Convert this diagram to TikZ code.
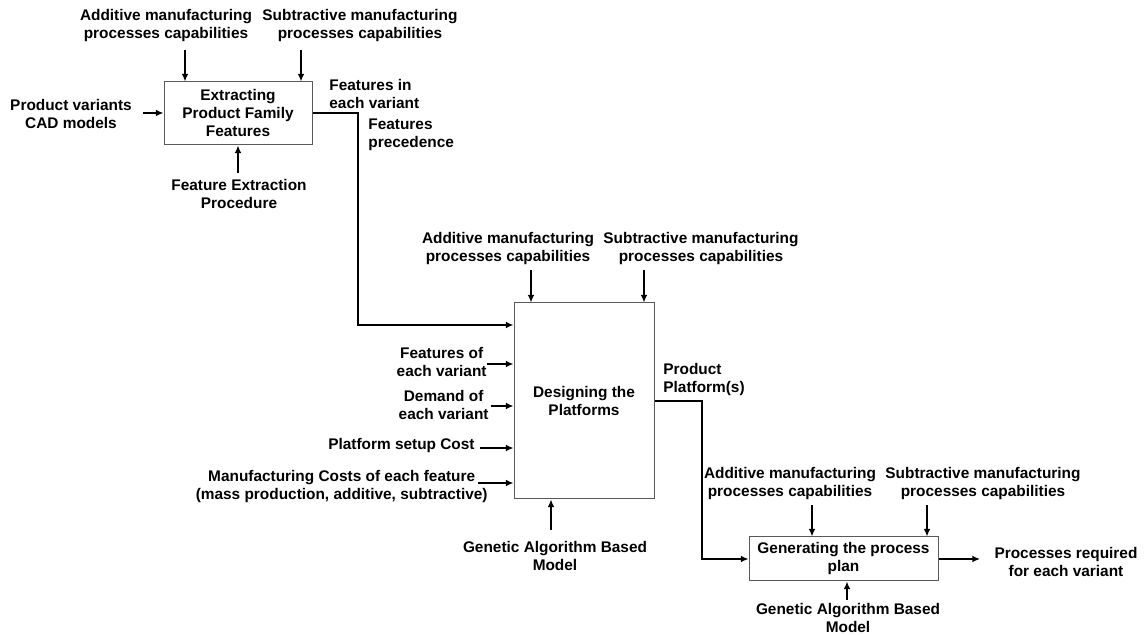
\documentclass[tikz,border=0pt]{standalone}
\usepackage{fontspec}
\setmainfont{Liberation Sans}
\usetikzlibrary{arrows.meta}

\tikzset{
  procbox/.style={draw=black!65, line width=0.5pt, align=center, inner sep=0pt,
    font=\bfseries\fontsize{7.7pt}{9pt}\selectfont},
  lbl/.style={align=center, inner sep=0pt, font=\bfseries\fontsize{7.7pt}{9pt}\selectfont},
  flow/.style={line width=1pt, -{Latex[length=3.8pt,width=3.4pt]}},
}

\begin{document}
\begin{tikzpicture}[x=0.5pt,y=-0.5pt]
\useasboundingbox (0,0) rectangle (1147,635);

% the three steps
\node[procbox, minimum width=74pt, minimum height=31.5pt] (box1) at (238,113.5) {Extracting\\Product Family\\Features};
\node[procbox, minimum width=70pt, minimum height=98pt] (box2) at (584,401) {Designing the\\Platforms};
\node[procbox, minimum width=94.5pt, minimum height=22pt] (box3) at (843.5,559) {Generating the process\\plan};

% step 1 labels
\node[lbl] (am1) at (166,26) {Additive manufacturing\\processes capabilities};
\node[lbl] (sm1) at (360,26) {Subtractive manufacturing\\processes capabilities};
\node[lbl] (pv) at (71,114) {Product variants\\CAD models};
\node[lbl] (fx) at (239,194) {Feature Extraction\\Procedure};
\node[lbl, align=left, anchor=west] (fe) at (329,94) {Features in\\each variant};
\node[lbl, align=left, anchor=west] (fp) at (368,135) {Features\\precedence};

% step 2 labels
\node[lbl] (am2) at (508,249) {Additive manufacturing\\processes capabilities};
\node[lbl] (sm2) at (701,249) {Subtractive manufacturing\\processes capabilities};
\node[lbl, anchor=east] (fv) at (487,362) {Features of\\each variant};
\node[lbl, anchor=east] (dv) at (489,405) {Demand of\\each variant};
\node[lbl, anchor=east] (psc) at (475,446) {Platform setup Cost};
\node[lbl, anchor=east] (mc) at (488,487) {Manufacturing Costs of each feature\\(mass production, additive, subtractive)};
\node[lbl] (ga2) at (555,556) {Genetic Algorithm Based\\Model};
\node[lbl, align=left, anchor=west] (pp) at (663,380) {Product\\Platform(s)};

% step 3 labels
\node[lbl] (am3) at (790,484) {Additive manufacturing\\processes capabilities};
\node[lbl] (sm3) at (983,484) {Subtractive manufacturing\\processes capabilities};
\node[lbl] (pr) at (1066,562) {Processes required\\for each variant};
\node[lbl] (ga3) at (848,618) {Genetic Algorithm Based\\Model};

% capabilities coming in from the top
\foreach \c/\x/\y/\b in {a1/185/50/box1, s1/301/50/box1, a2/531/270/box2, s2/644/270/box2, a3/812/505/box3, s3/927/505/box3} {
  \coordinate (\c) at (\x,\y);
  \draw[flow] (\c) -- (\c |- \b.north);
}

% mechanisms from below
\foreach \c/\x/\y/\b in {m1/238/173/box1, m2/551/530/box2, m3/847/600/box3} {
  \coordinate (\c) at (\x,\y);
  \draw[flow] (\c) -- (\c |- \b.south);
}

% inputs from the left
\foreach \c/\x/\y/\b in {i1/143/113/box1, i2/487/364/box2, i3/491/406/box2, i4/480/448/box2, i5/478/483/box2} {
  \coordinate (\c) at (\x,\y);
  \draw[flow] (\c) -- (\c -| \b.west);
}

% outputs feeding the next step
\coordinate (bend1) at (358,325);
\coordinate (bend2) at (702,559);
\coordinate (out3) at (980,559);
\draw[flow] (box1.east) -| (bend1) -- (bend1 -| box2.west);
\draw[flow] (box2.east) -| (bend2) -- (box3.west);
\draw[flow] (box3.east) -- (out3);
\end{tikzpicture}
\end{document}
